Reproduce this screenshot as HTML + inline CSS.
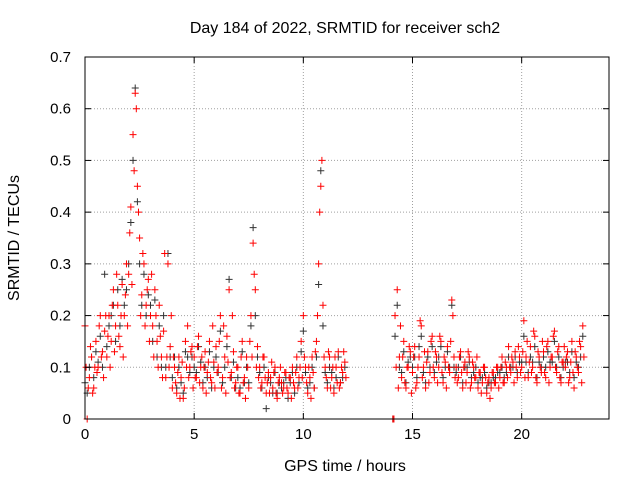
<!DOCTYPE html>
<html><head><meta charset="utf-8"><style>
body{margin:0;background:#fff}
svg text{font-family:"Liberation Sans",sans-serif;font-size:15px;fill:#000}
svg text.big{font-size:16px}
</style></head><body>
<svg id="chart" width="640" height="480" xmlns="http://www.w3.org/2000/svg">
<rect width="640" height="480" fill="#fff"/>
<g id="grid"></g>
<g id="pts-black"></g>
<g id="pts-red"></g>
<rect x="85" y="57" width="524" height="362" fill="none" stroke="#000" stroke-width="1"/>
<g id="ticks"></g>
<text class="big" x="345" y="33" text-anchor="middle">Day 184 of 2022, SRMTID for receiver sch2</text>
<text class="big" x="345" y="471" text-anchor="middle">GPS time / hours</text>
<text class="big" x="19" y="238" text-anchor="middle" transform="rotate(-90 19 238)">SRMTID / TECUs</text>
</svg>
<script>
const xTicks=[0,5,10,15,20];
const yTicks=[0,0.1,0.2,0.3,0.4,0.5,0.6,0.7];
const yTickLabels=["0","0.1","0.2","0.3","0.4","0.5","0.6","0.7"];
const times=[0,0.1,0.2,0.3,0.4,0.5,0.6,0.7,0.8,0.9,1,1.1,1.2,1.3,1.4,1.5,1.6,1.7,1.8,1.9,2,2.1,2.2,2.3,2.4,2.5,2.6,2.7,2.8,2.9,3,3.1,3.2,3.3,3.4,3.5,3.6,3.7,3.8,3.9,4,4.1,4.2,4.3,4.4,4.5,4.6,4.7,4.8,4.9,5,5.1,5.2,5.3,5.4,5.5,5.6,5.7,5.8,5.9,6,6.1,6.2,6.3,6.4,6.5,6.6,6.7,6.8,6.9,7,7.1,7.2,7.3,7.4,7.5,7.6,7.7,7.8,7.9,8,8.1,8.2,8.3,8.4,8.5,8.6,8.7,8.8,8.9,9,9.1,9.2,9.3,9.4,9.5,9.6,9.7,9.8,9.9,10,10.1,10.2,10.3,10.4,10.5,10.6,10.7,10.8,10.9,11,11.1,11.2,11.3,11.4,11.5,11.6,11.7,11.8,11.9,
14.1,14.2,14.3,14.4,14.5,14.6,14.7,14.8,14.9,15,15.1,15.2,15.3,15.4,15.5,15.6,15.7,15.8,15.9,16,16.1,16.2,16.3,16.4,16.5,16.6,16.7,16.8,16.9,17,17.1,17.2,17.3,17.4,17.5,17.6,17.7,17.8,17.9,18,18.1,18.2,18.3,18.4,18.5,18.6,18.7,18.8,18.9,19,19.1,19.2,19.3,19.4,19.5,19.6,19.7,19.8,19.9,20,20.1,20.2,20.3,20.4,20.5,20.6,20.7,20.8,20.9,21,21.1,21.2,21.3,21.4,21.5,21.6,21.7,21.8,21.9,22,22.1,22.2,22.3,22.4,22.5,22.6,22.7,22.8];
const redA=[.18,.0,.08,.12,.06,.15,.1,.2,.13,.17,.12,.2,.15,.25,.18,.22,.14,.26,.2,.3,.28,.41,.55,.63,.45,.35,.24,.3,.22,.27,.2,.18,.25,.15,.22,.12,.17,.08,.3,.14,.06,.1,.05,.12,.08,.04,.15,.18,.1,.14,.12,.08,.16,.1,.06,.13,.09,.15,.07,.11,.14,.1,.2,.08,.12,.16,.25,.09,.13,.07,.1,.05,.15,.08,.12,.06,.2,.34,.25,.14,.1,.07,.12,.05,.09,.08,.06,.1,.04,.08,.07,.06,.09,.05,.08,.1,.06,.12,.08,.15,.2,.1,.05,.08,.12,.06,.15,.3,.45,.22,.1,.06,.12,.08,.05,.1,.13,.07,.09,.11,
.0,.2,.25,.12,.08,.15,.06,.1,.13,.09,.14,.07,.12,.18,.1,.06,.13,.09,.16,.08,.12,.1,.15,.07,.11,.14,.09,.23,.12,.1,.08,.13,.06,.11,.09,.12,.07,.1,.08,.06,.09,.07,.1,.05,.08,.06,.09,.07,.1,.08,.12,.07,.1,.14,.09,.11,.13,.08,.12,.1,.19,.12,.08,.14,.1,.16,.07,.12,.09,.13,.08,.15,.1,.12,.17,.09,.14,.07,.11,.1,.13,.08,.15,.06,.12,.09,.14,.18];
const redB=[.1,.06,.14,.05,.1,.09,.18,.12,.08,.2,.16,.1,.22,.13,.28,.16,.2,.12,.24,.18,.36,.26,.48,.6,.4,.2,.32,.18,.25,.15,.28,.12,.2,.1,.16,.08,.32,.12,.1,.2,.12,.07,.09,.04,.11,.06,.1,.08,.13,.06,.08,.14,.07,.12,.1,.05,.11,.08,.18,.06,.09,.15,.06,.18,.05,.11,.08,.2,.06,.1,.05,.12,.07,.04,.1,.15,.12,.28,.1,.08,.06,.12,.08,.07,.05,.11,.09,.05,.07,.1,.05,.09,.06,.08,.04,.07,.09,.06,.1,.08,.12,.07,.1,.04,.09,.13,.2,.4,.5,.12,.08,.13,.06,.1,.12,.07,.06,.1,.13,.08,
.0,.1,.06,.18,.12,.07,.1,.14,.05,.12,.06,.1,.19,.08,.13,.11,.07,.15,.1,.13,.07,.16,.09,.12,.06,.1,.15,.2,.08,.07,.12,.09,.1,.07,.13,.06,.11,.08,.12,.09,.05,.1,.08,.07,.04,.09,.07,.1,.06,.1,.07,.11,.08,.1,.12,.07,.1,.14,.09,.13,.08,.15,.11,.09,.17,.08,.13,.1,.15,.09,.14,.07,.12,.16,.1,.13,.08,.11,.14,.12,.07,.11,.09,.13,.1,.15,.07,.12];
const black=[.07,.05,.1,.12,.08,.13,.11,.16,.1,.28,.14,.18,.2,.22,.15,.25,.18,.27,.22,.25,.3,.38,.5,.64,.42,.3,.22,.28,.2,.24,.22,.15,.23,.12,.18,.1,.2,.1,.32,.12,.08,.12,.06,.1,.07,.05,.13,.12,.09,.12,.1,.09,.14,.11,.07,.1,.08,.13,.06,.1,.12,.09,.17,.07,.1,.14,.27,.08,.11,.06,.08,.06,.13,.07,.1,.07,.18,.37,.2,.12,.09,.06,.1,.02,.08,.07,.05,.09,.05,.07,.06,.07,.08,.04,.07,.09,.05,.1,.07,.13,.17,.09,.06,.07,.1,.06,.12,.26,.48,.18,.09,.07,.1,.09,.06,.08,.12,.07,.08,.1,
.0,.16,.22,.1,.09,.13,.07,.11,.12,.1,.12,.08,.14,.16,.09,.07,.12,.1,.14,.09,.11,.12,.14,.08,.1,.13,.1,.22,.1,.09,.1,.12,.07,.1,.1,.11,.08,.09,.1,.07,.08,.08,.09,.06,.07,.07,.08,.08,.09,.09,.1,.08,.09,.12,.1,.1,.12,.09,.11,.11,.16,.11,.09,.12,.11,.14,.08,.11,.1,.12,.1,.13,.11,.11,.15,.1,.12,.08,.1,.11,.11,.09,.13,.08,.11,.1,.12,.16];
const X0=85,X1=609,Y0=419,Y1=57,XMAX=24,YMAX=0.7;
const xs=v=>X0+v/XMAX*(X1-X0);
const ys=v=>Y0-v/YMAX*(Y0-Y1);
const NS="http://www.w3.org/2000/svg";
function mk(tag,attrs,parent){const e=document.createElementNS(NS,tag);for(const k in attrs)e.setAttribute(k,attrs[k]);parent.appendChild(e);return e;}
const grid=document.getElementById('grid'),ticks=document.getElementById('ticks');
xTicks.forEach(t=>{const x=xs(t);
 if(t>0){const g=mk('line',{x1:x,x2:x,y1:Y1,y2:Y0,stroke:'#a0a0a0','stroke-dasharray':'1,2'},grid);
 
 }
 mk('line',{x1:x,x2:x,y1:Y0,y2:Y0-6,stroke:'#000'},ticks);
 mk('line',{x1:x,x2:x,y1:Y1,y2:Y1+6,stroke:'#000'},ticks);
 const l=mk('text',{x:x,y:Y0+20,'text-anchor':'middle'},ticks);l.textContent=t;
 
 });
yTicks.forEach((t,i)=>{const y=ys(t);
 if(t>0&&t<YMAX){const g=mk('line',{x1:X0,x2:X1,y1:y,y2:y,stroke:'#a0a0a0','stroke-dasharray':'1,2'},grid);
 
 }
 mk('line',{x1:X0,x2:X0+6,y1:y,y2:y,stroke:'#000'},ticks);
 mk('line',{x1:X1,x2:X1-6,y1:y,y2:y,stroke:'#000'},ticks);
 const l=mk('text',{x:X0-14,y:y+5,'text-anchor':'end'},ticks);l.textContent=yTickLabels[i];
 
 });
function plus(g,t,v,col,name){const x=xs(t),y=ys(v);
 const p=mk('path',{d:`M${x-3.5},${y}h7M${x},${y-3.5}v7`,stroke:col,'stroke-width':1,fill:'none'},g);
 
 }
const gb=document.getElementById('pts-black'),gr=document.getElementById('pts-red');
times.forEach((t,i)=>plus(gb,t,black[i],'#333','point-black'));
times.forEach((t,i)=>{plus(gr,t,redA[i],'#f00','point-red');plus(gr,t+0.05,redB[i],'#f00','point-red');});
</script>
</body></html>
